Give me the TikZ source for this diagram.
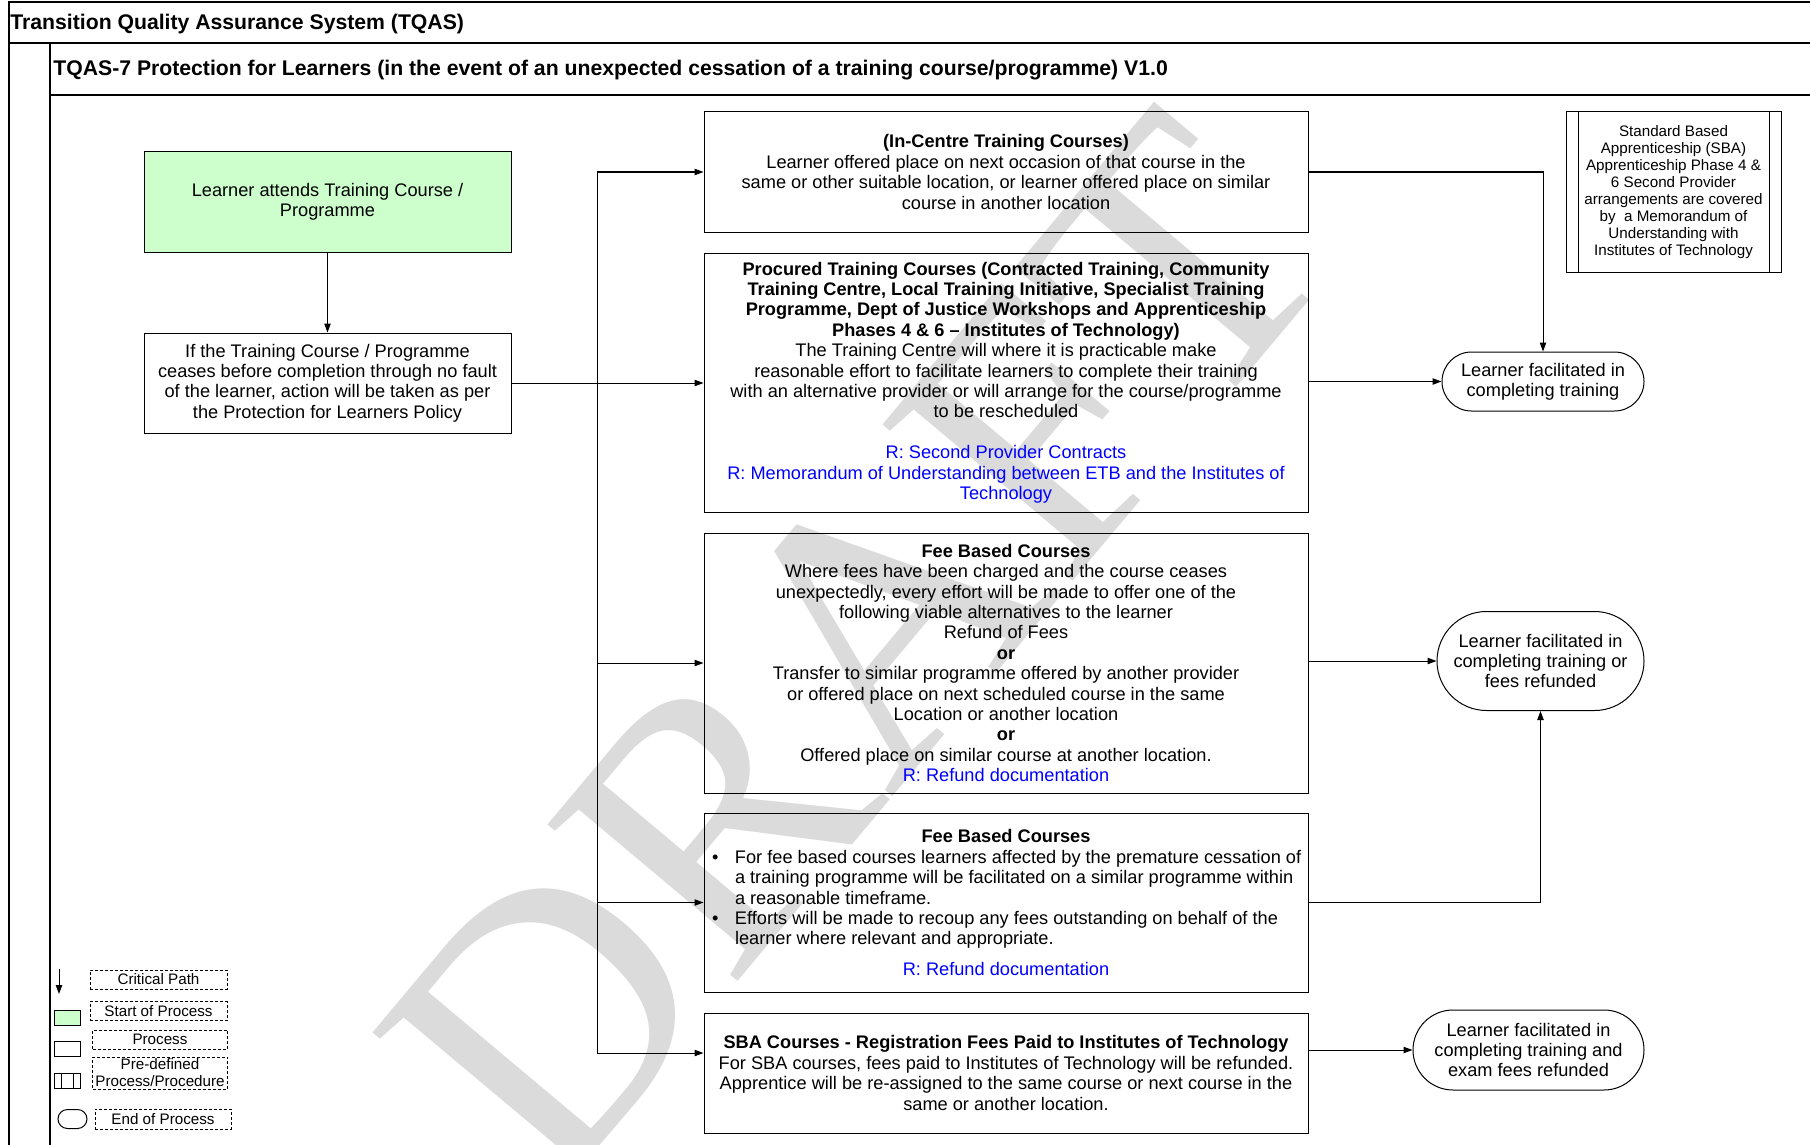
\documentclass[tikz,border=0pt]{standalone}
\usepackage{fontspec}
\setmainfont{Liberation Sans}
\newfontfamily\draftfont{Liberation Serif}
\usepackage{xcolor}
\usetikzlibrary{positioning, arrows.meta, shapes.misc, backgrounds}
\definecolor{startgreen}{RGB}{204,255,204}
\definecolor{linkblue}{RGB}{0,0,255}
\definecolor{draftgray}{RGB}{219,219,219}
\newcommand{\txtbody}{\fontsize{9.1}{10.2}\selectfont}
\newcommand{\txthead}{\fontsize{10.6}{12.5}\selectfont\bfseries}
\newcommand{\txtnote}{\fontsize{7.6}{8.5}\selectfont}
\newcommand{\bitem}{\hspace*{3pt}\makebox[11.5pt][l]{\textbullet}}
\newcommand{\bcont}{\hspace*{14.5pt}}

\begin{document}
\begin{tikzpicture}[
        x=0.5pt, y=-0.5pt,
        node distance = 10pt,
        box/.style = {draw, rectangle, align=center, font=\txtbody, inner xsep=1pt, inner ysep=2pt, line width=0.5pt},
        startbox/.style = {box, fill=startgreen, minimum width=183.5pt, minimum height=50pt},
        procbox/.style = {box, minimum width=183.5pt, minimum height=50pt},
        coursebox/.style = {box, minimum width=302pt},
        endbox/.style = {box, shape=rounded rectangle, inner xsep=4pt},
        predef/.style = {path picture={
            \draw[line width=0.5pt] ([xshift=#1]path picture bounding box.north west) -- ([xshift=#1]path picture bounding box.south west);
            \draw[line width=0.5pt] ([xshift=-#1]path picture bounding box.north east) -- ([xshift=-#1]path picture bounding box.south east);}},
        notebox/.style = {box, font=\txtnote, minimum width=107.5pt, minimum height=80pt, predef=6pt},
        legendsym/.style = {draw, rectangle, minimum width=13pt, minimum height=7.5pt, inner sep=0pt, line width=0.5pt},
        legendtxt/.style = {draw, dash pattern=on 1.5pt off 1pt, rectangle, align=center, font=\txtnote, minimum width=68.5pt, minimum height=9.5pt, inner sep=0pt, line width=0.4pt},
        header/.style = {anchor=west, font=\txthead, inner sep=0pt},
        frame/.style = {draw=black, line width=0.8pt},
        arrow/.style = {draw=black, -{Triangle[length=4.5pt, width=3.2pt]}, line width=0.5pt}
    ]
        \useasboundingbox (0,0) rectangle (1810,1145);

        % === Frame and titles ===
        \draw[frame] (1810,2) -- (9,2) -- (9,1145);
        \draw[frame] (9,43) -- (1810,43);
        \draw[frame] (50,43) -- (50,1145);
        \draw[frame] (50,95) -- (1810,95);

        \node (sysTitle) [header] at (10,24) {Transition Quality Assurance System (TQAS)};
        \node (procTitle) [header] at (53,70) {TQAS-7 Protection for Learners (in the event of an unexpected cessation of a training course/programme) V1.0};

        % === Left column ===
        \node (start) [startbox] at (327.5,202) {Learner attends Training Course /\\Programme};

        \node (cease) [procbox, below=40pt of start] {If the Training Course / Programme\\ceases before completion through no fault\\of the learner, action will be taken as per\\the Protection for Learners Policy};

        % === Course types ===
        \node (incentre) [coursebox, minimum height=60pt] at (1006,172) {\textbf{(In-Centre Training Courses)}\\Learner offered place on next occasion of that course in the\\same or other suitable location, or learner offered place on similar\\course in another location};

        \node (procured) [coursebox, minimum height=129.5pt, below=of incentre] {\textbf{Procured Training Courses (Contracted Training, Community}\\\textbf{Training Centre, Local Training Initiative, Specialist Training}\\\textbf{Programme, Dept of Justice Workshops and Apprenticeship}\\\textbf{Phases 4 \& 6 – Institutes of Technology)}\\The Training Centre will where it is practicable make\\reasonable effort to facilitate learners to complete their training\\with an alternative provider or will arrange for the course/programme\\to be rescheduled\\[10.2pt]\textcolor{linkblue}{R: Second Provider Contracts}\\\textcolor{linkblue}{R: Memorandum of Understanding between ETB and the Institutes of}\\\textcolor{linkblue}{Technology}};

        \node (fee1) [coursebox, minimum height=130pt, below=of procured] {\textbf{Fee Based Courses}\\Where fees have been charged and the course ceases\\unexpectedly, every effort will be made to offer one of the\\following viable alternatives to the learner\\Refund of Fees\\\textbf{or}\\Transfer to similar programme offered by another provider\\or offered place on next scheduled course in the same\\Location or another location\\\textbf{or}\\Offered place on similar course at another location.\\\textcolor{linkblue}{R: Refund documentation}};

        \node (fee2) [coursebox, align=left, minimum height=89.5pt, below=9.5pt of fee1] {\makebox[300pt][c]{\textbf{Fee Based Courses}}\\\bitem For fee based courses learners affected by the premature cessation of\\\bcont a training programme will be facilitated on a similar programme within\\\bcont a reasonable timeframe.\\\bitem Efforts will be made to recoup any fees outstanding on behalf of the\\\bcont learner where relevant and appropriate.\\[5pt]\makebox[300pt][c]{\textcolor{linkblue}{R: Refund documentation}}};

        \node (sba) [coursebox, minimum height=60pt, below=of fee2] {\textbf{SBA Courses - Registration Fees Paid to Institutes of Technology}\\For SBA courses, fees paid to Institutes of Technology will be refunded.\\Apprentice will be re-assigned to the same course or next course in the\\same or another location.};

        % === Outcomes ===
        \node (end1) [endbox, minimum width=109pt, minimum height=29.5pt] at (1543,381.5) {Learner facilitated in\\completing training};
        \node (end2) [endbox, minimum width=111.5pt, minimum height=49.5pt] at (1540.5,661) {Learner facilitated in\\completing training or\\fees refunded};
        \node (end3) [endbox, minimum width=123.5pt, minimum height=40pt] at (1528.5,1050) {Learner facilitated in\\completing training and\\exam fees refunded};

        \node (sbaNote) [notebox] at (1673.5,192) {Standard Based\\Apprenticeship (SBA)\\Apprenticeship Phase 4 \&\\6 Second Provider\\arrangements are covered\\by~ a Memorandum of\\Understanding with\\Institutes of Technology};

        % === Arrows ===
        \coordinate (bus) at (597,0);
        \draw [arrow] (start) -- (cease);
        \draw [arrow] (cease.east) -- (cease.east -| procured.west);
        \draw [arrow] (cease.east -| bus) |- (incentre.west);
        \draw [arrow] (cease.east -| bus) |- (fee1.west);
        \draw [arrow] (cease.east -| bus) |- (fee2.west);
        \draw [arrow] (cease.east -| bus) |- ([yshift=10pt]sba.west);

        \draw [arrow] (incentre.east) -| (end1.north);
        \draw [arrow] (procured.east |- end1.west) -- (end1.west);
        \draw [arrow] (fee1.east |- end2.west) -- (end2.west);
        \draw [arrow] (fee2.east) -| (end2.south);
        \draw [arrow] (sba.east |- end3.west) -- (end3.west);

        % === Legend ===
        \coordinate (lgArrowTop) at (59,969);
        \coordinate (lgArrowBot) at (59,994);
        \draw [arrow] (lgArrowTop) -- (lgArrowBot);
        \node (lgCrit) [legendtxt] at (158.5,979.5) {Critical Path};

        \node (lgStartSym) [legendsym, fill=startgreen] at (67,1017.5) {};
        \node (lgStart) [legendtxt] at (158.5,1011) {Start of Process};

        \node (lgProcSym) [legendsym] at (67,1049) {};
        \node (lgProc) [legendtxt, minimum width=67.5pt] at (160,1039.5) {Process};

        \node (lgPredefSym) [legendsym, predef=3.5pt] at (67,1081) {};
        \node (lgPredef) [legendtxt, minimum width=67.5pt, minimum height=16pt] at (160,1073) {Pre-defined\\Process/Procedure};

        \node (lgEndSym) [draw, shape=rounded rectangle, minimum width=14.5pt, minimum height=9.5pt, inner sep=0pt, line width=0.5pt] at (72.5,1119) {};
        \node (lgEnd) [legendtxt, minimum width=68pt, minimum height=10pt] at (163,1119) {End of Process};

        % Watermark (background)
        \begin{scope}[on background layer]
            \node (draftMark) [text=draftgray, rotate=50, inner sep=0pt, font=\draftfont\fontsize{188}{188}\selectfont] at (856,648) {DRAFT};
        \end{scope}

    \end{tikzpicture}
\end{document}
